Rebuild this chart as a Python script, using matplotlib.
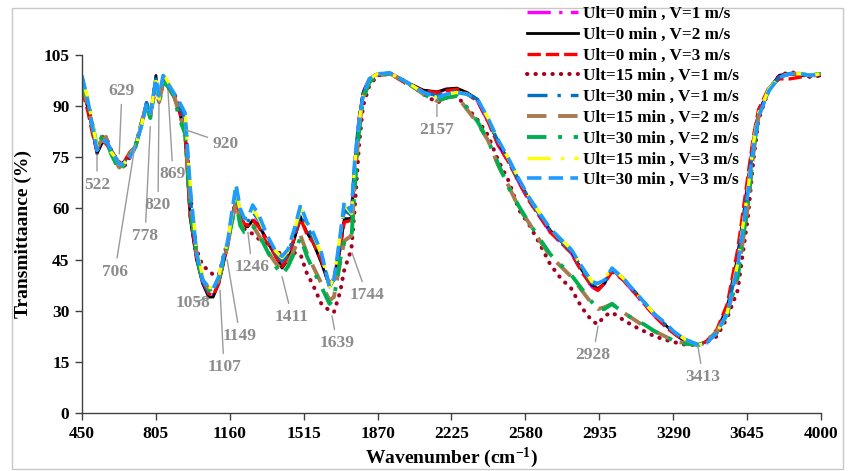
import matplotlib
matplotlib.use("Agg")
import matplotlib.pyplot as plt
from matplotlib.patches import Rectangle

W = [450, 480, 500, 522, 545, 565, 590, 610, 629, 650,
     680, 706, 740, 760, 778, 790, 805, 820, 840, 869,
     890, 920, 945, 970, 1000, 1030, 1058, 1080, 1107, 1130,
     1149, 1170, 1190, 1210, 1230, 1246, 1270, 1300, 1340, 1380,
     1411, 1440, 1470, 1500, 1530, 1560, 1600, 1639, 1660, 1690,
     1710, 1744, 1760, 1780, 1800, 1830, 1870, 1930, 2010, 2090,
     2157, 2200, 2250, 2300, 2350, 2400, 2450, 2500, 2550, 2600,
     2650, 2700, 2750, 2800, 2850, 2900, 2928, 2960, 2996, 3050,
     3100, 3150, 3200, 3250, 3300, 3350, 3413, 3450, 3500, 3550,
     3600, 3650, 3675, 3700, 3750, 3800, 3850, 3900, 3950, 4000]

ult0_v1 = [97, 89, 83, 76.5, 79.5, 80, 77, 75, 73, 73.5,
           76, 78, 86, 91, 87, 92, 98, 91.5, 98, 95,
           93, 88, 82, 57.5, 45.5, 38, 34.5, 34.5, 38.5, 44.5,
           49.5, 57.5, 63, 58, 55.5, 55, 57, 55, 50.5, 46,
           43, 45.5, 51.5, 58, 53, 50.5, 44.5, 37.5, 39.5, 48.5,
           57, 57, 73, 86, 94, 98, 99.5, 99.5, 97, 94.5,
           94, 95, 95, 93.5, 91.5, 85.5, 78.5, 73.5, 67.5, 62,
           57.5, 53, 50, 47, 41.5, 37, 36, 38, 42, 39,
           35.5, 32, 28.5, 25.5, 23, 21, 20, 21, 24, 31,
           46, 68, 80, 88, 95, 99, 99.5, 99, 99, 99]

ult0_v2 = [96, 89, 83, 76, 79, 80, 77, 75, 73, 73.5,
           76, 78, 86, 91, 87, 92, 99, 91, 98, 95,
           93, 88, 82, 57, 45, 38, 34, 34, 38, 44,
           49, 57, 62.5, 58, 55, 54.6, 56.5, 55, 50.5, 46,
           42.5, 45, 51, 57.5, 53, 50, 44, 37, 39, 48,
           57, 57, 73, 86, 94, 98, 99.5, 99.7, 97, 94.7,
           94.2, 95, 95.3, 94, 92, 86, 79, 74, 68, 62.5,
           58, 53.5, 50.5, 47.5, 42, 37.5, 36.5, 38, 42, 39.5,
           36, 32.5, 29, 26, 23, 21, 20, 21, 24, 31,
           46, 68, 80, 88, 95, 99, 99.5, 99, 99, 99]

ult0_v3 = [95, 88, 82, 77, 80, 79, 77, 75, 73.5, 73.5,
           76.5, 78, 86, 90.5, 87.5, 91.5, 97, 92, 97, 95,
           93, 88.5, 82, 58, 46, 38.5, 35, 34.5, 38, 44.5,
           49, 56.5, 62, 57.5, 55.5, 55, 56.5, 54.5, 50, 46,
           43, 45.5, 51.5, 57, 52.5, 50, 45, 37.5, 39.5, 48.5,
           56, 56.5, 72, 85, 93.5, 97.5, 99, 99.5, 96.5, 94.5,
           94, 94.5, 95, 93.5, 91.5, 85.5, 78.5, 73.5, 67.5, 62,
           57.5, 53, 50, 47, 41.5, 37, 36, 38, 41.5, 39,
           35.5, 32, 28.5, 25.5, 23, 21, 20, 21, 24.5, 32,
           48, 70, 81, 89, 95.5, 98, 98, 98.5, 99, 99]

ult15_v1 = [97, 90, 84, 77, 81, 81, 77, 75, 73, 72,
            75, 78, 86, 90, 87, 91, 97, 91, 97, 96,
            94, 90, 86, 64, 48, 43, 42, 40.5, 40.5, 46,
            50, 57, 63, 56, 54, 53.5, 52.5, 51, 49, 47.5,
            46.5, 46, 47, 46.5, 41, 37.5, 32, 30, 29.5, 35.5,
            42, 48, 60, 78, 90, 96, 99, 99.5, 97, 93.5,
            91, 92.5, 93, 89.5, 86, 81.5, 74, 68, 59.5, 55,
            49.5, 43.5, 39.5, 36.5, 31, 27, 26, 28.5, 29.5, 27.3,
            25.5, 24, 22.5, 21.5, 20.7, 20, 20, 20.8, 22.5, 28,
            36, 58, 74, 86, 95, 99, 100, 99.5, 98.5, 99]

ult30_v1 = [98, 91, 84, 77.5, 79.5, 80, 77, 75, 73, 73.5,
            75.5, 78, 85.5, 91, 87.5, 92, 98, 92, 98.5, 96,
            93.5, 90, 86, 63, 46, 38.5, 35.5, 35.5, 39, 45.5,
            49.5, 57.5, 64.5, 59, 56, 56, 59, 56.5, 51.5, 47,
            44.5, 46.5, 52.5, 59, 54.5, 51.5, 46.5, 37, 39, 50,
            59.5, 58, 73.5, 85.5, 93.5, 98, 99.5, 99.7, 97, 94.2,
            93, 94, 94.5, 93.5, 92, 86, 79.5, 74, 68, 62.5,
            58, 53.5, 50.5, 47.5, 42.5, 38, 37.5, 38.5, 42, 39.5,
            36, 32.5, 29, 26, 23.5, 21.5, 20, 20.5, 23.5, 30,
            44, 66, 79, 87.5, 95, 98.5, 99.5, 99.5, 99, 99.5]

ult15_v2 = [96, 90, 84, 78, 80, 81, 77, 74, 72, 73,
            76, 78, 86, 90.5, 87, 91.5, 97, 91, 97, 96,
            93.5, 87, 83, 61, 47, 39, 36.5, 36, 39, 44.5,
            49, 56, 62, 56, 53.5, 53.5, 55, 52, 47.5, 44,
            42, 44, 48, 52, 47, 43, 38, 33, 34, 44,
            50.5, 52, 67, 83, 92.5, 97, 99, 99.5, 97, 93.5,
            91.5, 92.5, 93, 89, 85, 80, 72.5, 66.5, 60, 55.5,
            50.5, 46, 43, 40, 36, 32, 30.5, 31, 32, 29.5,
            27.5, 25.5, 24, 22.5, 21, 20.5, 20, 21, 24, 29.5,
            40, 61, 76, 87, 95, 98.5, 99.5, 99.5, 99, 99.5]

ult30_v2 = [98, 91, 85, 78, 81, 80, 76, 73.5, 71, 72.5,
            75.5, 78, 86, 90, 86.5, 91, 97, 91, 97, 95.5,
            93, 86, 82, 60, 46, 38.5, 36, 36.5, 39.5, 45,
            49.5, 56, 62, 55, 53, 53, 55, 52.5, 47.5, 43,
            40.5, 43, 47, 51.5, 46, 42, 37, 32, 33.5, 45,
            50, 51, 66, 82, 92, 97, 99, 99.5, 97, 93.5,
            91.5, 92.5, 93, 89.5, 85.5, 80, 73, 66, 60.5, 55.5,
            51, 46.5, 43.5, 40.5, 36.5, 32.5, 30.5, 30.5, 32, 29.5,
            27.5, 26, 24, 22.5, 21, 20.3, 20, 21, 23.5, 29,
            40, 62, 77, 87, 95, 98.5, 99.5, 99.5, 99, 99.5]

ult15_v3 = [98, 92, 85, 78, 80, 79.5, 76.5, 75, 73, 73,
            75.5, 78, 85.5, 91, 88, 92, 99, 92, 99.5, 96.5,
            94, 91, 88, 67, 48, 40, 37, 36.5, 40, 46,
            50, 58, 66, 59, 57, 57.5, 60, 57, 51.5, 47.5,
            45.5, 47.5, 53.5, 60, 55, 52.5, 46.5, 37, 39.5, 52,
            61, 58.5, 73, 85, 93, 98, 99.5, 99.7, 97, 94,
            92.5, 93.5, 94, 93.5, 92, 86.5, 80, 74.5, 68.5, 63,
            58.5, 54, 51, 48, 43, 38.5, 38, 39.5, 42.5, 39.5,
            36, 32.5, 29, 26.5, 23.5, 21.5, 20, 20.5, 23.5, 29.5,
            44, 66, 79, 88, 95, 98.5, 99.5, 99.5, 99, 99.5]

ult30_v3 = [99, 91, 84, 77, 79, 80, 77, 75, 73, 73,
            75, 78, 85, 91, 88, 92, 98, 93, 99, 96,
            94, 91, 88, 66, 47, 39, 37, 36.5, 40, 46,
            50, 59, 67, 60, 57, 57, 61, 58, 52, 47.5,
            46, 48, 54, 61, 56, 53, 47, 37, 39, 52,
            62, 59, 74, 85, 93, 98, 99.5, 99.7, 97, 94,
            92.5, 93.5, 94, 93.5, 92, 86.5, 80, 74.5, 68.5, 63,
            58.5, 54, 51, 48, 43, 38.5, 38, 39, 42.5, 39.5,
            36, 32.5, 29, 26.5, 23.5, 21.5, 20, 20.5, 23.5, 29.5,
            43, 65, 78, 87, 94.5, 98.5, 99.5, 99.5, 99, 99.5]

labels = ["Ult=0 min , V=1 m/s", "Ult=0 min , V=2 m/s", "Ult=0 min , V=3 m/s",
          "Ult=15 min , V=1 m/s", "Ult=30 min , V=1 m/s", "Ult=15 min , V=2 m/s",
          "Ult=30 min , V=2 m/s", "Ult=15 min , V=3 m/s", "Ult=30 min , V=3 m/s"]
series = [ult0_v1, ult0_v2, ult0_v3, ult15_v1, ult30_v1, ult15_v2, ult30_v2, ult15_v3, ult30_v3]

# peak annotations: label, point (wavenumber, value), text position (wavenumber, value)
peak_labels = ["522", "629", "706", "778", "820", "869", "920", "1058", "1107",
               "1149", "1246", "1411", "1639", "1744", "2157", "2928", "3413"]
peak_xy = [(522, 76), (629, 76), (706, 79), (778, 84), (820, 91.5), (863, 94.5), (950, 83),
           (1050, 33.7), (1113, 36), (1147, 45), (1247, 53), (1411, 40), (1651, 28.5),
           (1747, 47), (2155, 90.5), (2929, 25.5), (3409, 19.5)]
peak_txt = [(522, 67), (642, 94.5), (608, 41.5), (753, 52), (815, 61), (887, 70), (1142, 79),
            (983, 32.3), (1132, 13.5), (1209, 22.6), (1267, 42.8), (1459, 28.2), (1675, 20.5),
            (1819, 34.6), (2155, 83), (2905, 17), (3433, 10.6)]

styles = [
    dict(color="#FF00FF", lw=2.4, ls=(0, (7, 2.5, 1, 2.5))),
    dict(color="#000000", lw=2.0, ls="-"),
    dict(color="#FF0000", lw=2.4, ls=(0, (4, 1.5))),
    dict(color="#A50021", lw=2.9, ls=(0, (0.1, 2.0)), dash_capstyle="round"),
    dict(color="#0070C0", lw=2.4, ls=(0, (6, 3, 1, 3))),
    dict(color="#A67B4F", lw=2.8, ls=(0, (5, 3))),
    dict(color="#00B050", lw=2.8, ls=(0, (5, 3, 1, 3))),
    dict(color="#FFFF00", lw=2.4, ls=(0, (7, 3, 1, 3))),
    dict(color="#1E9BFF", lw=2.6, ls=(0, (4, 2))),
]

serif = ["Liberation Serif", "DejaVu Serif"]
plt.rcParams["font.family"] = serif
plt.rcParams["font.weight"] = "bold"
plt.rcParams["mathtext.fontset"] = "custom"
plt.rcParams["mathtext.rm"] = "Liberation Serif:bold"
plt.rcParams["mathtext.bf"] = "Liberation Serif:bold"
plt.rcParams["mathtext.default"] = "rm"

fig = plt.figure(figsize=(8.53, 4.71), dpi=100)
ax = fig.add_axes([82 / 853, 1 - 413 / 471, (821 - 82) / 853, (413 - 55) / 471])

handles = []
for ys, lab, st in zip(series, labels, styles):
    kw = dict(st)
    ls = kw.pop("ls")
    h, = ax.plot(W, ys, linestyle=ls, label=lab, **kw)
    handles.append(h)

ax.set_xlim(450, 4000)
ax.set_ylim(0, 105)
xt = [450, 805, 1160, 1515, 1870, 2225, 2580, 2935, 3290, 3645, 4000]
ax.set_xticks(xt)
ax.set_xticklabels([str(v) for v in xt])
ax.set_yticks(range(0, 106, 15))
for s in ["top", "right"]:
    ax.spines[s].set_visible(False)
for s in ["left", "bottom"]:
    ax.spines[s].set_color("#404040")
    ax.spines[s].set_linewidth(1.0)
ax.tick_params(axis="both", direction="out", length=5, width=1, color="#404040",
               labelsize=12.5, pad=4)
for t in ax.get_xticklabels() + ax.get_yticklabels():
    t.set_fontweight("bold")

ax.set_xlabel("Wavenumber (cm$^{-1}$)", fontsize=14, fontweight="bold", labelpad=3)
ax.set_ylabel("Transmittaance (%)", fontsize=14, fontweight="bold", labelpad=8)

for lab, xy, tx in zip(peak_labels, peak_xy, peak_txt):
    ax.annotate(lab, xy=xy, xytext=tx, textcoords="data", ha="center", va="center",
                fontsize=12.5, fontweight="bold", color="#8C8C8C",
                arrowprops=dict(arrowstyle="-", color="#9A9A9A", lw=1.0,
                                shrinkA=2, shrinkB=0))

leg = fig.legend(handles=handles, labels=labels, loc="upper left",
                 bbox_to_anchor=(527 / 853, 1 - 6 / 471), frameon=False,
                 prop=dict(family=serif, weight="bold", size=12.3),
                 handlelength=3.0, handletextpad=0.3, labelspacing=0.28,
                 borderpad=0, borderaxespad=0)

fig.patches.append(Rectangle((12 / 853, 2 / 471), (843 - 12) / 853, (463 - 2) / 471,
                             transform=fig.transFigure, fill=False,
                             edgecolor="#C8C8C8", lw=1.0))

fig.savefig("out.png", dpi=100)
